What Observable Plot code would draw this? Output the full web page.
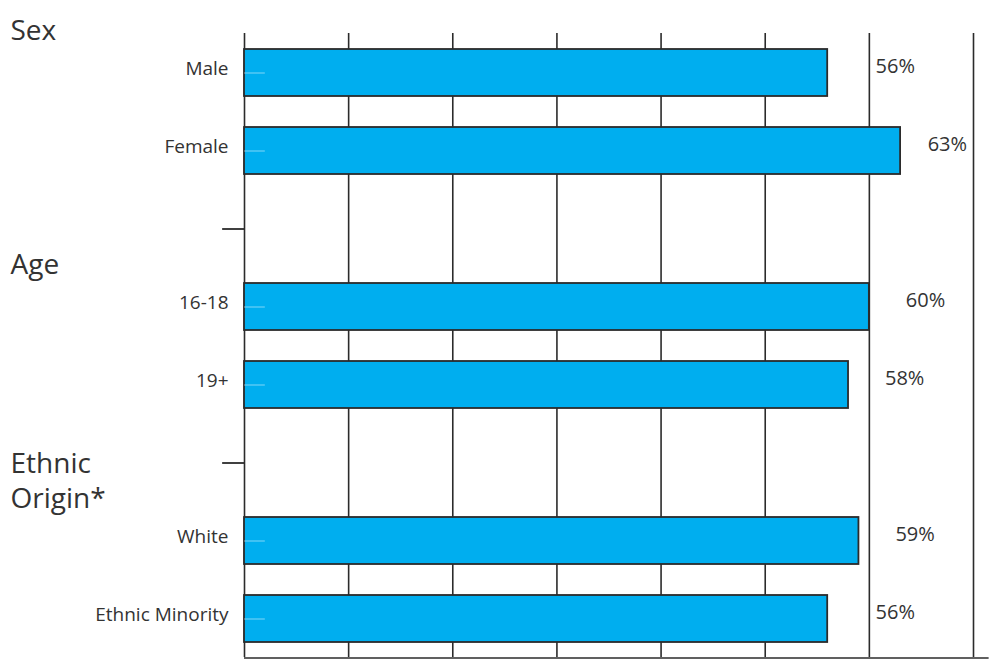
<!DOCTYPE html>
<html>
<head>
<meta charset="utf-8">
<script src="https://cdn.jsdelivr.net/npm/d3@7"></script>
<script src="https://cdn.jsdelivr.net/npm/@observablehq/plot@0.6"></script>
<style>
  body { margin: 0; background: #fff; }
  #chart svg { display: block; }
</style>
</head>
<body>
<div id="chart"></div>
<script>
// Share of respondents by group (percent)
const categories = ["Male", "Female", "16-18", "19+", "White", "Ethnic Minority"];
const values = [56, 63, 60, 58, 59, 56];

// Group headings and the first row each heading sits above
const groupLabels = ["Sex", "Age", "Ethnic\nOrigin*"];
const groupFirstRow = ["Male", "16-18", "White"];

// Row order, with empty spacer rows between groups
const rowOrder = ["Male", "Female", "gap1", "16-18", "19+", "gap2", "White", "Ethnic Minority"];
const spacerRows = ["gap1", "gap2"];

// Vertical gridline positions (percent)
const gridTicks = [0, 10, 20, 30, 40, 50, 60, 70];

const rows = categories.map((c, i) => ({category: c, value: values[i]}));
const groups = groupLabels.map((g, i) => ({label: g, first: groupFirstRow[i]}));
// light lines where the gridlines pass behind each bar
const ghosts = rows.flatMap(r => gridTicks.filter(t => t > 0 && t < r.value).map(t => ({category: r.category, tick: t})));

// Value labels sit a little past the bar end, nudged off any gridline they would straddle
const labelGap = 3.5, labelWidth = 3.8, gridClear = 0.6;
function labelStart(v) {
  let start = v + labelGap;
  const hit = gridTicks.find(g => g > start - gridClear && g < start + labelWidth + gridClear);
  if (hit !== undefined) {
    start = (hit - start) < (start + labelWidth - hit) ? hit + gridClear : hit - gridClear - labelWidth;
  }
  return start;
}

const ink = "#2b2b2b";
const textColor = "#333";
const font = "'Open Sans', 'Noto Sans', sans-serif";

const chart = Plot.plot({
  width: 989,
  height: 661,
  marginLeft: 244,
  marginRight: 16,
  marginTop: 33,
  marginBottom: 4,
  style: {fontFamily: font, color: textColor, background: "#fff"},
  x: {domain: [0, 70], axis: null},
  y: {domain: rowOrder, axis: null, paddingInner: 0.4, paddingOuter: 0.2},
  marks: [
    Plot.ruleX(gridTicks, {stroke: ink, strokeWidth: 1.6}),
    Plot.ruleY(spacerRows, {x1: -2.1, x2: 0, stroke: ink, strokeWidth: 1.8}),
    Plot.ruleY(["Ethnic Minority"], {x1: 0, x2: 71.5, dy: 39, stroke: ink, strokeWidth: 1.6}),
    Plot.barX(rows, {x: "value", y: "category", fill: "#00aeef", stroke: ink, strokeWidth: 1.8}),
    Plot.ruleX(ghosts, {x: "tick", y: "category", stroke: "#ffffff", strokeOpacity: 0.45, strokeWidth: 1.2, insetTop: 1, insetBottom: 1}),
    Plot.ruleY(rows, {y: "category", x1: 0, x2: 2, stroke: "#ffffff", strokeOpacity: 0.5, strokeWidth: 1}),
    Plot.text(rows, {x: 0, y: "category", text: "category", textAnchor: "end", dx: -16, dy: -4, fontSize: 19, fill: textColor}),
    Plot.text(rows, {x: d => labelStart(d.value), y: "category", text: d => `${d.value}%`, textAnchor: "start", dy: -6, fontSize: 20, fill: textColor}),
    Plot.text(groups, {y: "first", text: "label", frameAnchor: "left", dx: -234, textAnchor: "start", lineAnchor: "bottom", dy: -33, fontSize: 28, lineHeight: 1.25, fill: textColor})
  ]
});

document.getElementById("chart").append(chart);
</script>
</body>
</html>
